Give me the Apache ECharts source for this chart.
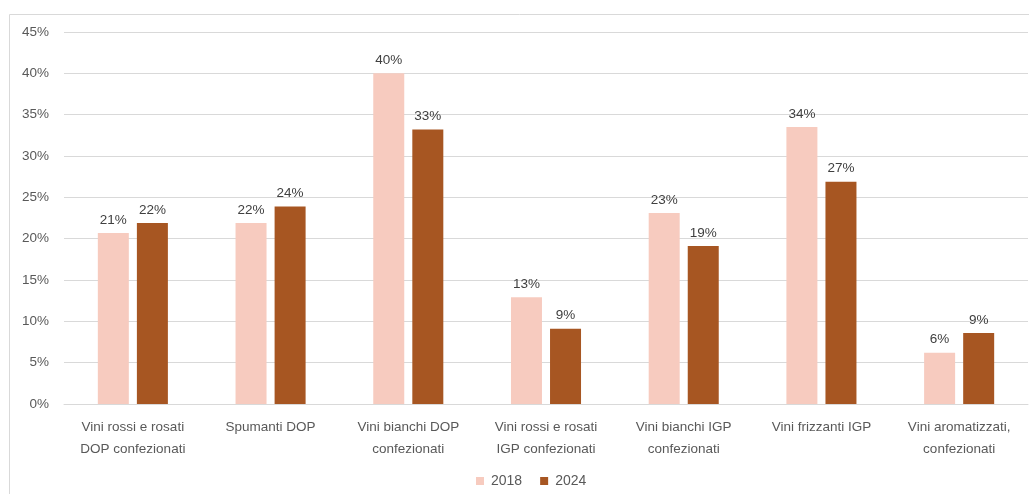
<!DOCTYPE html>
<html>
<head>
<meta charset="utf-8">
<script src="https://cdn.jsdelivr.net/npm/echarts@6/dist/echarts.min.js"></script>
<style>
  html, body { margin: 0; padding: 0; background: #fff; }
  #chart { width: 1029px; height: 494px; }
</style>
</head>
<body>
<div id="chart"></div>
<script>
// Quota per categoria di vino, confronto 2018 / 2024 (valori in %)
const categories = [
  'Vini rossi e rosati\nDOP confezionati',
  'Spumanti DOP',
  'Vini bianchi DOP\nconfezionati',
  'Vini rossi e rosati\nIGP confezionati',
  'Vini bianchi IGP\nconfezionati',
  'Vini frizzanti IGP',
  'Vini aromatizzati,\nconfezionati'
];
const seriesNames = ['2018', '2024'];
const values2018 = [20.7, 21.9, 40.0, 12.9, 23.1, 33.5, 6.2];
const values2024 = [21.9, 23.9, 33.2, 9.1, 19.1, 26.9, 8.6];
const yTicks = { min: 0, max: 45, interval: 5 };

const FONT = '"Liberation Sans", Arial, sans-serif';
const colors = ['#F7CBBF', '#A75622'];

const chart = echarts.init(document.getElementById('chart'), null, { renderer: 'canvas' });

const barSeries = (name, data, color) => ({
  name: name,
  type: 'bar',
  data: data,
  barWidth: 31,
  barGap: '26%',
  itemStyle: { color: color },
  label: {
    show: true,
    position: 'top',
    distance: 6,
    color: '#404040',
    fontFamily: FONT,
    fontSize: 13.5,
    formatter: p => Math.round(p.value) + '%'
  },
  emphasis: { disabled: true }
});

chart.setOption({
  animation: false,
  color: colors,
  graphic: [{
    type: 'rect',
    shape: { x: 9.5, y: 14.5, width: 1100, height: 600 },
    style: { fill: 'none', stroke: '#D9D9D9', lineWidth: 1 },
    silent: true,
    z: -1
  }],
  grid: { left: 64, right: 1, top: 32, bottom: 90, containLabel: false },
  legend: {
    data: seriesNames,
    bottom: 1,
    left: 471,
    icon: 'rect',
    itemWidth: 8,
    itemHeight: 8,
    itemGap: 18,
    textStyle: { color: '#595959', fontFamily: FONT, fontSize: 14, padding: [0, 0, 0, 2] }
  },
  xAxis: {
    type: 'category',
    data: categories,
    axisLine: { lineStyle: { color: '#D9D9D9' } },
    axisTick: { show: false },
    axisLabel: {
      color: '#595959',
      fontFamily: FONT,
      fontSize: 13.5,
      lineHeight: 22,
      margin: 12,
      interval: 0
    }
  },
  yAxis: {
    type: 'value',
    min: yTicks.min,
    max: yTicks.max,
    interval: yTicks.interval,
    axisLine: { show: false },
    axisTick: { show: false },
    splitLine: { lineStyle: { color: '#D9D9D9', width: 1 } },
    axisLabel: {
      color: '#595959',
      fontFamily: FONT,
      fontSize: 13.5,
      margin: 15,
      formatter: v => v + '%'
    }
  },
  series: [
    barSeries(seriesNames[0], values2018, colors[0]),
    barSeries(seriesNames[1], values2024, colors[1])
  ]
});
</script>
</body>
</html>
